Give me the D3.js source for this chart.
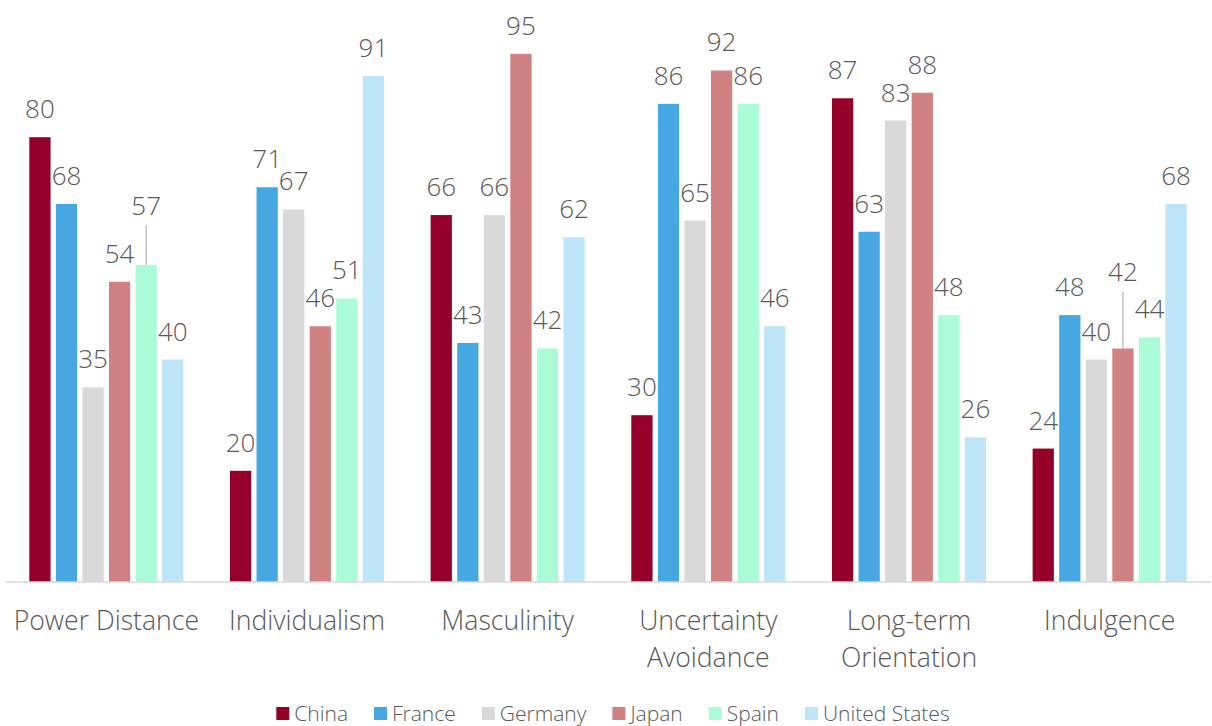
<!DOCTYPE html>
<html>
<head>
<meta charset="utf-8">
<script src="https://cdn.jsdelivr.net/npm/d3@7"></script>
<style>
  html, body { margin: 0; padding: 0; background: #fff; }
  svg { display: block; font-family: 'Open Sans', sans-serif; font-weight: 300; }
</style>
</head>
<body>
<div id="chart"></div>
<script>
// Hofstede dimensions, one value per country
const categories = [
  ['Power Distance'],
  ['Individualism'],
  ['Masculinity'],
  ['Uncertainty', 'Avoidance'],
  ['Long-term', 'Orientation'],
  ['Indulgence']
];
const countries = ['China', 'France', 'Germany', 'Japan', 'Spain', 'United States'];
const china = [80, 20, 66, 30, 87, 24];
const france = [68, 71, 43, 86, 63, 48];
const germany = [35, 67, 66, 65, 83, 40];
const japan = [54, 46, 95, 92, 88, 42];
const spain = [57, 51, 42, 86, 48, 44];
const unitedStates = [40, 91, 62, 46, 26, 68];

const colors = ['#95002a', '#46a7e2', '#d9d9d9', '#d08282', '#aafcd6', '#bde4f7'];

// labels that get lifted off their bar to avoid a clash (px)
const labelLift = { 'Spain|0': 31, 'Japan|5': 48 };

const seriesValues = [china, france, germany, japan, spain, unitedStates];

function renderChart() {
  const width = 1212;
  const height = 726;
  const baseline = 582;
  const textColor = '#595959';

  const catKeys = categories.map(c => c.join(' '));

  const x0 = d3.scaleBand()
    .domain(catKeys)
    .range([6, 1210]);

  const groupPad = 23.3;
  const x1 = d3.scaleBand()
    .domain(countries)
    .range([groupPad, x0.bandwidth() - groupPad])
    .paddingInner(0.2);

  const y = d3.scaleLinear()
    .domain([0, 100])
    .range([baseline, 26]);

  const rows = [];
  countries.forEach((country, s) => {
    seriesValues[s].forEach((v, i) => {
      rows.push({ country, s, i, cat: catKeys[i], value: v });
    });
  });

  const svg = d3.select('#chart')
    .append('svg')
    .attr('width', width)
    .attr('height', height)
    .attr('viewBox', [0, 0, width, height]);

  svg.append('g')
    .selectAll('rect')
    .data(rows)
    .join('rect')
    .attr('x', d => x0(d.cat) + x1(d.country))
    .attr('y', d => y(d.value))
    .attr('width', x1.bandwidth())
    .attr('height', d => baseline - y(d.value))
    .attr('fill', d => colors[d.s]);

  // baseline axis
  svg.append('line')
    .attr('x1', x0.range()[0])
    .attr('x2', x0.range()[1])
    .attr('y1', baseline)
    .attr('y2', baseline)
    .attr('stroke', '#d9d9d9')
    .attr('stroke-width', 1.5);

  // leader lines for lifted labels
  const lifted = rows.filter(d => labelLift[d.country + '|' + d.i]);
  svg.append('g')
    .selectAll('line')
    .data(lifted)
    .join('line')
    .attr('x1', d => x0(d.cat) + x1(d.country) + x1.bandwidth() / 2)
    .attr('x2', d => x0(d.cat) + x1(d.country) + x1.bandwidth() / 2)
    .attr('y1', d => y(d.value) - 19 - labelLift[d.country + '|' + d.i] + 10)
    .attr('y2', d => y(d.value))
    .attr('stroke', '#a6a6a6')
    .attr('stroke-width', 1);

  svg.append('g')
    .style('font-size', '26px')
    .attr('fill', textColor)
    .attr('text-anchor', 'middle')
    .selectAll('text')
    .data(rows)
    .join('text')
    .attr('x', d => x0(d.cat) + x1(d.country) + x1.bandwidth() / 2)
    .attr('y', d => y(d.value) - 19 - (labelLift[d.country + '|' + d.i] || 0))
    .text(d => d.value);

  // category labels
  const catLabels = svg.append('g')
    .style('font-size', '26.6px')
    .attr('fill', textColor)
    .attr('text-anchor', 'middle')
    .selectAll('text')
    .data(categories)
    .join('text')
    .attr('x', (d, i) => x0(catKeys[i]) + x0.bandwidth() / 2)
    .attr('y', 630);

  catLabels.selectAll('tspan')
    .data(d => d)
    .join('tspan')
    .attr('x', function () { return d3.select(this.parentNode).attr('x'); })
    .attr('dy', (d, i) => i === 0 ? 0 : 37)
    .text(d => d);

  // legend
  const legend = svg.append('g')
    .style('font-size', '21px')
    .attr('fill', textColor);

  const items = legend.selectAll('g')
    .data(countries)
    .join('g');

  items.append('rect')
    .attr('width', 13)
    .attr('height', 13)
    .attr('y', 707)
    .attr('fill', (d, i) => colors[i]);

  items.append('text')
    .attr('x', 18)
    .attr('y', 721)
    .text(d => d);

  let offset = 0;
  const offsets = [];
  items.each(function () {
    offsets.push(offset);
    offset += 18 + this.querySelector('text').getComputedTextLength() + 26;
  });
  const total = offset - 26;
  const start = (width - total) / 2 + 7;
  items.attr('transform', (d, i) => `translate(${start + offsets[i]},0)`);
}

renderChart();
</script>
</body>
</html>
